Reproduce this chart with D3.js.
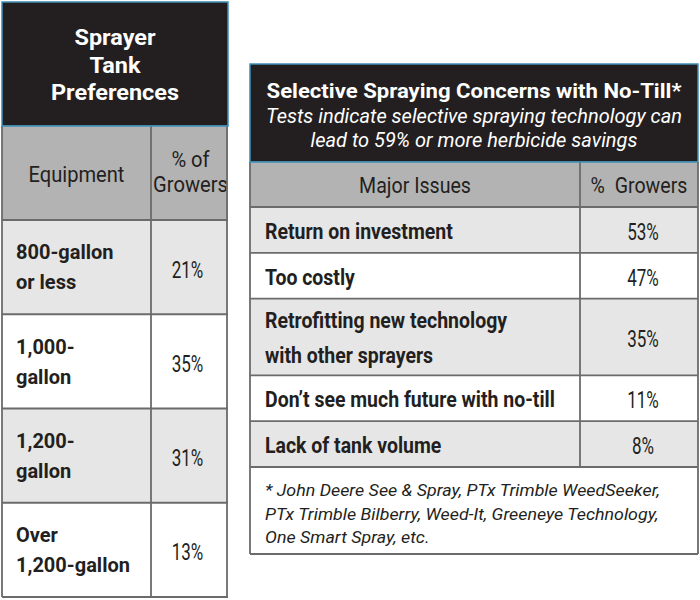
<!DOCTYPE html>
<html><head><meta charset="utf-8">
<script src="https://cdn.jsdelivr.net/npm/d3@7"></script>
<style>body{margin:0;background:#fff}svg{display:block}</style>
</head><body>
<svg id="c" width="700" height="600"></svg>
<script>
// ---- data ----
const tankTitle = ["Sprayer", "Tank", "Preferences"];
const tankHeaders = [["Equipment"], ["% of", "Growers"]];
const tankEquipment = [["800-gallon", "or less"], ["1,000-", "gallon"], ["1,200-", "gallon"], ["Over", "1,200-gallon"]];
const tankPct = [21, 35, 31, 13];

const concernTitle = "Selective Spraying Concerns with No-Till*";
const concernSubtitle = ["Tests indicate selective spraying technology can", "lead to 59% or more herbicide savings"];
const concernHeaders = ["Major Issues", "%  Growers"];
const concernIssues = [["Return on investment"], ["Too costly"], ["Retrofitting new technology", "with other sprayers"], ["Don\u2019t see much future with no-till"], ["Lack of tank volume"]];
const concernPct = [53, 47, 35, 11, 8];
const footnote = ["* John Deere See & Spray, PTx Trimble WeedSeeker,", "PTx Trimble Bilberry, Weed-It, Greeneye Technology,", "One Smart Spray, etc."];

// ---- style ----
const FONT = "Roboto, 'Open Sans', sans-serif";
const DARK = "#231f20", TEAL = "#3f8fb5", HEAD = "#b3b3b3", LIGHT = "#e6e6e6", LINE = "#6b6b6b";

const svg = d3.select("#c");
const pctFmt = d => d + "%";

// condensation factor: measure a sample string and compare with its width in the reference
function condense(sample, opts, target) {
  const t = svg.append("text").attr("font-family", FONT).attr("font-size", opts.size)
    .attr("font-weight", opts.weight || "normal").attr("font-style", opts.style || "normal")
    .style("white-space", "pre").text(sample);
  const w = t.node().getComputedTextLength();
  t.remove();
  return Object.assign({}, opts, { sx: target / w });
}

function textLines(g, lines, x, yMid, lh, opts) {
  const n = lines.length;
  const t = g.append("text")
    .attr("x", x).attr("font-family", FONT)
    .attr("font-size", opts.size).attr("font-weight", opts.weight || "normal")
    .attr("font-style", opts.style || "normal")
    .attr("fill", opts.fill || "#231f20")
    .attr("text-anchor", opts.anchor || "start")
    .style("white-space", "pre");
  if (opts.sx) t.attr("transform", `translate(${x},0) scale(${opts.sx},1) translate(${-x},0)`);
  lines.forEach((l, i) => {
    t.append("tspan").attr("x", x)
      .attr("y", yMid + (i - (n - 1) / 2) * lh + opts.size * 0.355)
      .text(l);
  });
  return t;
}

// text styles (sizes from cap heights, widths matched to the reference)
const sLeftTitle = condense("Preferences", { size: 22.5, weight: "bold", fill: "#fff", anchor: "middle" }, 128);
const sLeftHead = condense("Equipment", { size: 22.5, anchor: "middle" }, 96);
const sLeftRow = condense("1,200-gallon", { size: 20.5, weight: "bold" }, 114);
const sPct = condense("21%", { size: 24, anchor: "middle" }, 31.6);
const sRightTitle = condense(concernTitle, { size: 21, weight: "bold", fill: "#fff", anchor: "middle" }, 415);
const sSub = condense(concernSubtitle[0], { size: 21, style: "italic", fill: "#fff", anchor: "middle" }, 416);
const sRightHead = condense("Major Issues", { size: 21.5, anchor: "middle" }, 112);
const sRightRow = condense(concernIssues[3][0], { size: 22, weight: "bold" }, 290);
const sFoot = condense(footnote[0], { size: 16, style: "italic" }, 395);

// ===== Left table =====
{
  const L = { x0: 2, x1: 228, split: 151, titleTop: 2, titleBot: 126, headBot: 220, bot: 597 };
  const g = svg.append("g");
  const rowY = d3.scaleBand().domain(d3.range(tankPct.length)).range([L.headBot, L.bot]);

  g.append("rect").attr("x", L.x0).attr("y", L.titleTop).attr("width", L.x1 - L.x0).attr("height", L.titleBot - L.titleTop)
    .attr("fill", DARK).attr("stroke", TEAL).attr("stroke-width", 1.5);
  textLines(g, tankTitle, (L.x0 + L.x1) / 2, 65, 27.5, sLeftTitle);

  g.append("rect").attr("x", L.x0).attr("y", L.titleBot).attr("width", L.x1 - L.x0).attr("height", L.headBot - L.titleBot).attr("fill", HEAD);
  textLines(g, tankHeaders[0], (L.x0 + L.split) / 2, 174, 25, sLeftHead);
  textLines(g, tankHeaders[1], (L.split + L.x1) / 2 + 1, 171.5, 25, sLeftHead);

  tankPct.forEach((v, i) => {
    const y = rowY(i), h = rowY.bandwidth();
    g.append("rect").attr("x", L.x0).attr("y", y).attr("width", L.x1 - L.x0).attr("height", h)
      .attr("fill", i % 2 === 0 ? LIGHT : "#fff");
    textLines(g, tankEquipment[i], 16, y + h / 2, 30, sLeftRow);
    textLines(g, [pctFmt(v)], (L.split + L.x1) / 2 - 2, y + h / 2 + 2, 30, sPct);
  });
  // grid lines
  const hl = [L.headBot].concat(tankPct.map((v, i) => rowY(i) + rowY.bandwidth()));
  g.selectAll("line.h").data(hl).enter().append("line")
    .attr("x1", L.x0).attr("x2", L.x1).attr("y1", d => d).attr("y2", d => d)
    .attr("stroke", LINE).attr("stroke-width", 1.8);
  [L.x0, L.split, L.x1 - 1].forEach(x => g.append("line").attr("x1", x).attr("x2", x)
    .attr("y1", L.titleBot).attr("y2", L.bot).attr("stroke", LINE).attr("stroke-width", 1.8));
  g.append("line").attr("x1", L.x0).attr("x2", L.x1).attr("y1", L.titleBot).attr("y2", L.titleBot).attr("stroke", TEAL).attr("stroke-width", 1.5);
}

// ===== Right table =====
{
  const R = { x0: 250, x1: 698, split: 580, titleTop: 64, titleBot: 162, headBot: 207, bodyBot: 467, bot: 554 };
  const g = svg.append("g");
  const units = concernIssues.map(d => d.length === 1 ? 1 : 1.67);
  const cum = [0]; units.forEach(u => cum.push(cum[cum.length - 1] + u));
  const yU = d3.scaleLinear().domain([0, cum[cum.length - 1]]).range([R.headBot, R.bodyBot]);

  g.append("rect").attr("x", R.x0).attr("y", R.titleTop).attr("width", R.x1 - R.x0).attr("height", R.titleBot - R.titleTop)
    .attr("fill", DARK).attr("stroke", TEAL).attr("stroke-width", 1.5);
  textLines(g, [concernTitle], (R.x0 + R.x1) / 2, 90.5, 0, sRightTitle);
  textLines(g, concernSubtitle, (R.x0 + R.x1) / 2, 127.5, 24, sSub);

  g.append("rect").attr("x", R.x0).attr("y", R.titleBot).attr("width", R.x1 - R.x0).attr("height", R.headBot - R.titleBot).attr("fill", HEAD);
  textLines(g, [concernHeaders[0]], (R.x0 + R.split) / 2, 185.5, 0, sRightHead);
  textLines(g, [concernHeaders[1]], (R.split + R.x1) / 2, 185.5, 0, sRightHead);

  concernPct.forEach((v, i) => {
    const y0 = yU(cum[i]), y1 = yU(cum[i + 1]), ym = (y0 + y1) / 2;
    g.append("rect").attr("x", R.x0).attr("y", y0).attr("width", R.x1 - R.x0).attr("height", y1 - y0)
      .attr("fill", i % 2 === 0 ? LIGHT : "#fff");
    textLines(g, concernIssues[i], 265, ym + 1, 35, sRightRow);
    textLines(g, [pctFmt(v)], (R.split + R.x1) / 2 + 4, ym + 1.5, 0, sPct);
  });

  g.append("rect").attr("x", R.x0).attr("y", R.bodyBot).attr("width", R.x1 - R.x0).attr("height", R.bot - R.bodyBot).attr("fill", "#fff");
  textLines(g, footnote, 265, 514, 23.5, sFoot);

  const hl = cum.map(c => yU(c)).concat([R.bot]);
  g.selectAll("line.h").data(hl).enter().append("line")
    .attr("x1", R.x0).attr("x2", R.x1).attr("y1", d => d).attr("y2", d => d)
    .attr("stroke", LINE).attr("stroke-width", 1.8);
  [R.x0, R.x1].forEach(x => g.append("line").attr("x1", x).attr("x2", x)
    .attr("y1", R.titleBot).attr("y2", R.bot).attr("stroke", LINE).attr("stroke-width", 1.8));
  g.append("line").attr("x1", R.split).attr("x2", R.split).attr("y1", R.titleBot).attr("y2", R.bodyBot)
    .attr("stroke", LINE).attr("stroke-width", 1.8);
  g.append("line").attr("x1", R.x0).attr("x2", R.x1).attr("y1", R.titleBot).attr("y2", R.titleBot).attr("stroke", TEAL).attr("stroke-width", 1.5);
}
</script>
</body></html>
